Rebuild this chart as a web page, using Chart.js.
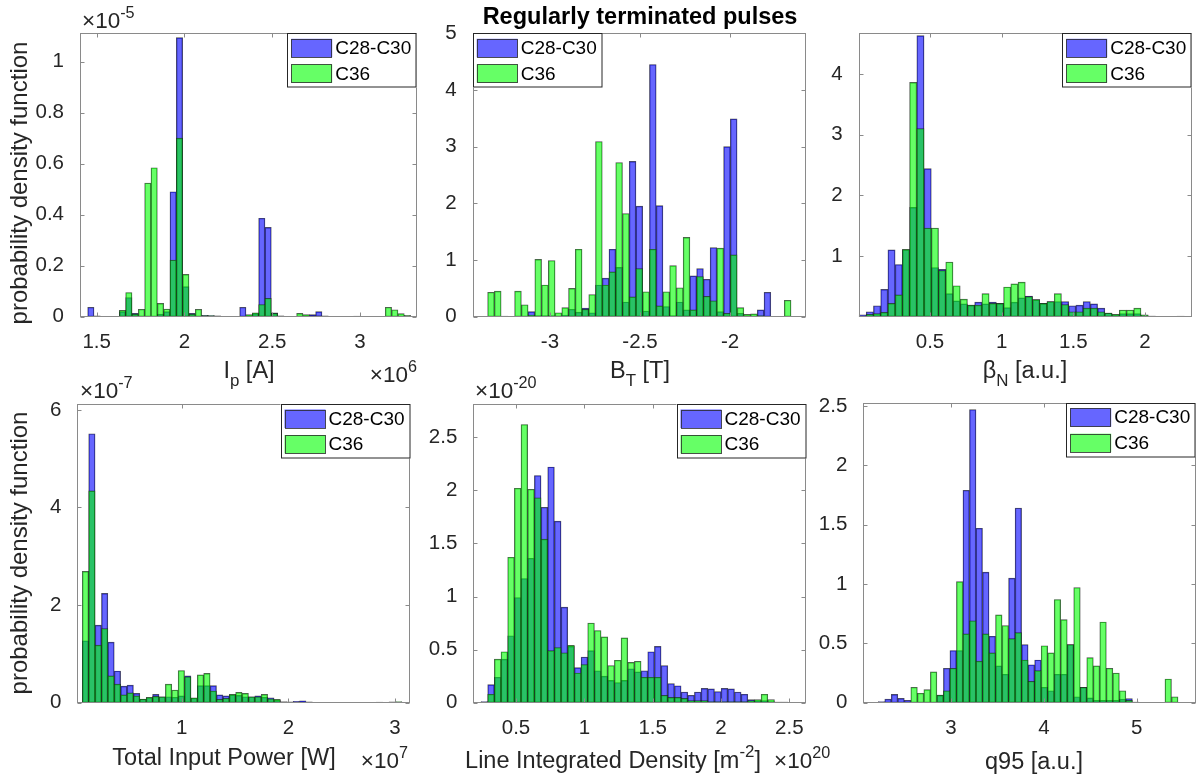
<!DOCTYPE html>
<html><head><meta charset="utf-8">
<script src="https://cdn.jsdelivr.net/npm/chart.js@4.4.0/dist/chart.umd.min.js"></script>
<style>
html,body{margin:0;padding:0;background:#fff;}
#wrap{position:relative;width:1202px;height:780px;overflow:hidden;background:#fff;}
canvas{position:absolute;left:0;top:0;}
</style></head><body><div id="wrap">
<canvas id="c1" width="1202" height="780"></canvas>
<canvas id="c2" width="1202" height="780"></canvas>
<canvas id="c3" width="1202" height="780"></canvas>
<canvas id="c4" width="1202" height="780"></canvas>
<canvas id="c5" width="1202" height="780"></canvas>
<canvas id="c6" width="1202" height="780"></canvas>
</div>
<script>
// ---------------- DATA ----------------
const seriesNames = ['C28-C30', 'C36'];
const chartTitle = 'Regularly terminated pulses';
const yAxisTitle = 'probability density function';

// Panel 1: Ip  (x in 1e6 A, pdf in 1e-5)
const ipBinStart = 1.4487, ipBinWidth = 0.03607;
const ipC28 = [0.037,0.003,0,0,0,0.02,0.075,0.013,0.002,0,0,0.01,0.02,0.49,1.094,0.118,0.013,0.002,0.005,0.004,0.003,0.001,0.001,0,0.037,0.003,0.012,0.386,0.35,0.015,0.003,0,0,0,0,0.008,0.02,0.003,0,0,0,0,0.002,0,0,0,0,0,0,0,0];
const ipC36 = [0,0,0,0,0,0.025,0.095,0.01,0.029,0.524,0.584,0.052,0.03,0.222,0.70,0.166,0.01,0.029,0.004,0.004,0.002,0.001,0,0,0,0.008,0.015,0.048,0.072,0.013,0.002,0,0,0.013,0.008,0.003,0.003,0,0,0,0,0,0,0,0,0,0,0.037,0.027,0.012,0.005];
const ipXTicks = [1.5, 2, 2.5, 3];
const ipYTicks = [0, 0.2, 0.4, 0.6, 0.8, 1];

// Panel 2: BT [T]
const btBinStart = -3.346, btBinWidth = 0.03744;
const btC28 = [0,0,0,0,0,0,0.09,0.02,0.02,0.02,0.01,0.03,0.13,0.08,0.15,0.07,0.56,0.68,1.19,0.87,0.26,2.74,1.95,0.1,4.45,1.96,0.18,0.02,0.26,0.12,0.72,0.85,0.66,1.22,0.09,3.0,3.49,0.06,0.01,0.01,0.12,0.43,0.005,0,0];
const btC36 = [0.43,0.45,0.01,0.005,0.45,0.21,0.03,1.01,0.56,0.99,0.07,0.16,0.5,1.19,0.13,0.39,3.09,0.56,0.79,2.72,1.82,0.35,0.85,0.44,1.19,0.19,0.44,0.9,0.51,1.4,0.12,0.71,0.36,0.28,1.21,0.06,1.09,0.16,0.04,0.05,0.02,0,0,0.005,0.29];
const btXTicks = [-3, -2.5, -2];
const btYTicks = [0, 1, 2, 3, 4, 5];

// Panel 3: beta_N
const bnBinStart = 0.0045, bnBinWidth = 0.05045;
const bnC28 = [0.03,0.08,0.18,0.45,1.1,0.86,1.1,1.8,4.63,2.44,0.81,0.78,0.38,0.26,0.21,0.19,0.24,0.21,0.24,0.22,0.15,0.24,0.31,0.34,0.28,0.22,0.25,0.25,0.25,0.18,0.19,0.25,0.21,0.14,0.06,0.03,0.05,0.05,0.05,0.02,0.01,0.005,0.005,0.005,0.01,0.005];
const bnC36 = [0.005,0.04,0.05,0.07,0.22,0.36,1.11,3.86,3.1,1.46,1.46,0.76,0.9,0.51,0.29,0.19,0.19,0.38,0.22,0.22,0.49,0.54,0.57,0.33,0.28,0.22,0.25,0.38,0.2,0.08,0.08,0.14,0.14,0.08,0.06,0.04,0.11,0.11,0.14,0.03,0.01,0.005,0.002,0.005,0.002,0.002];
const bnXTicks = [0.5, 1, 1.5, 2];
const bnYTicks = [1, 2, 3, 4];

// Panel 4: Total input power (x in 1e7 W, pdf in 1e-7)
const pwBinStart = 0.0684, pwBinWidth = 0.0599;
const pwC28 = [1.27,5.51,1.59,2.24,1.24,0.65,0.34,0.36,0.19,0.07,0.1,0.17,0.12,0.12,0.11,0.14,0.55,0.09,0.35,0.35,0.35,0.16,0.14,0.16,0.15,0.12,0.12,0.14,0.11,0.1,0.05,0.02,0.02,0.03,0.04,0.02,0.005,0.005,0.005,0.005,0.005,0.005,0.005,0.005,0.005,0.005,0.005,0.005,0.005,0.005];
const pwC36 = [2.69,4.34,1.18,1.52,0.55,0.38,0.16,0.2,0.14,0.075,0.11,0.13,0.12,0.38,0.26,0.66,0.53,0.1,0.57,0.6,0.24,0.07,0.09,0.17,0.21,0.19,0.12,0.12,0.17,0.08,0.07,0.02,0.01,0.01,0.01,0.005,0.005,0.005,0.005,0.005,0.01,0.01,0.01,0.01,0.005,0.01,0.015,0.01,0.02,0.025];
const pwXTicks = [1, 2, 3];
const pwYTicks = [0, 2, 4, 6];

// Panel 5: Line integrated density (x in 1e20 m^-2, pdf in 1e-20)
const ldBinStart = 0.244, ldBinWidth = 0.0488;
const ldC28 = [0.01,0.17,0.24,0.41,0.63,0.99,1.17,1.36,2.14,1.84,2.22,1.71,0.9,0.53,0.33,0.43,0.49,0.3,0.25,0.21,0.19,0.21,0.32,0.29,0.3,0.48,0.53,0.35,0.18,0.16,0.1,0.07,0.1,0.135,0.13,0.105,0.135,0.13,0.1,0.08,0.03,0.02,0.02,0.01,0.005,0.005,0.002];
const ldC36 = [0.005,0.08,0.41,0.48,1.37,2.02,2.62,2.01,1.93,1.54,0.49,0.52,0.47,0.54,0.28,0.36,0.75,0.68,0.62,0.35,0.4,0.61,0.38,0.39,0.24,0.24,0.24,0.07,0.05,0.05,0.04,0.02,0.02,0.02,0.01,0.01,0.01,0.01,0.01,0.01,0.02,0.03,0.08,0.03,0.005,0.005,0.002];
const ldXTicks = [0.5, 1, 1.5, 2, 2.5];
const ldYTicks = [0, 0.5, 1, 1.5, 2, 2.5];

// Panel 6: q95
const qBinStart = 2.216, qBinWidth = 0.0702;
const qC28 = [0.01,0.03,0.07,0.036,0.02,0,0,0,0,0.064,0.29,0.44,0.44,1.79,2.47,1.47,1.1,0.56,0.31,0.24,1.05,1.64,0.49,0.32,0.36,0.13,0.1,0.24,0.24,0.49,0.05,0.13,0.04,0.02,0.02,0.02,0.02,0.03,0.035,0.005,0.002,0.002,0.002,0.002,0.005,0];
const qC36 = [0,0,0,0,0,0.13,0.08,0.11,0.26,0.064,0.1,0.29,1.02,0.58,0.69,0.35,0.58,0.42,0.74,0.65,0.54,0.59,0.36,0.18,0.27,0.48,0.42,0.87,0.7,0.49,0.97,0.13,0.38,0.31,0.68,0.29,0.25,0.1,0.02,0.005,0.002,0.002,0.002,0.002,0.2,0.05];
const qXTicks = [3, 4, 5];
const qYTicks = [0, 0.5, 1, 1.5, 2, 2.5];

// ---------------- STYLE / LAYOUT ----------------
const FONT = "'Liberation Sans', Arial, Helvetica, sans-serif";
const TXT = '#262626';
const BLUE = 'rgba(0,0,255,0.6)';
const GREEN = 'rgba(0,255,0,0.6)';
const EDGE = 'rgba(25,25,25,0.75)';
const YW = 62, XH = 40;
const LW = 129.5, LH = 54.5;
const EXP = 22.5;

const panels = [
  {id:'c1', start:ipBinStart, width:ipBinWidth, a:ipC28, b:ipC36, xt:ipXTicks, yt:ipYTicks,
   xmin:1.405, xmax:3.323, ymax:1.111, area:[80,33.3,416.7,316.7], legend:'right',
   labels:[
     {segs:[['I'],['p','sub'],[' [A]']], x:249, y:378, size:23.5, align:'center'},
     {segs:[['\u00d710'],['-5','sup']], x:82, y:28, size:EXP, align:'left'},
     {segs:[['\u00d710'],['6','sup']], x:417, y:382, size:EXP, align:'right'},
     {segs:[[yAxisTitle]], x:27, y:183, size:24, align:'center', rot:true}
   ]},
  {id:'c2', start:btBinStart, width:btBinWidth, a:btC28, b:btC36, xt:btXTicks, yt:btYTicks,
   xmin:-3.429, xmax:-1.578, ymax:5, area:[472.7,33.3,806,316.7], legend:'left',
   labels:[
     {segs:[['B'],['T','sub'],[' [T]']], x:640, y:378, size:23.5, align:'center'},
     {segs:[[chartTitle]], x:640, y:24, size:23.5, align:'center', bold:true}
   ]},
  {id:'c3', start:bnBinStart, width:bnBinWidth, a:bnC28, b:bnC36, xt:bnXTicks, yt:bnYTicks,
   xmin:0.0025, xmax:2.326, ymax:4.669, area:[858.7,33.3,1191.7,316.7], legend:'right',
   labels:[
     {segs:[['\u03b2'],['N','sub'],[' [a.u.]']], x:1025, y:378, size:23.5, align:'center'}
   ]},
  {id:'c4', start:pwBinStart, width:pwBinWidth, a:pwC28, b:pwC36, xt:pwXTicks, yt:pwYTicks,
   xmin:0.0216, xmax:3.14, ymax:6.12, area:[77.3,404,410,702.7], legend:'right',
   labels:[
     {segs:[['Total Input Power [W]']], x:224, y:765, size:23.5, align:'center'},
     {segs:[['\u00d710'],['-7','sup']], x:80, y:398, size:EXP, align:'left'},
     {segs:[['\u00d710'],['7','sup']], x:408, y:768, size:EXP, align:'right'},
     {segs:[[yAxisTitle]], x:27, y:553, size:24, align:'center', rot:true}
   ]},
  {id:'c5', start:ldBinStart, width:ldBinWidth, a:ldC28, b:ldC36, xt:ldXTicks, yt:ldYTicks,
   xmin:0.1875, xmax:2.622, ymax:2.813, area:[473.3,404,806,702.7], legend:'right',
   labels:[
     {segs:[['Line Integrated Density [m'],['-2','sup'],[']']], x:613, y:768, size:23.5, align:'center'},
     {segs:[['\u00d710'],['-20','sup']], x:475, y:398, size:EXP, align:'left'},
     {segs:[['\u00d710'],['20','sup']], x:774, y:768, size:EXP, align:'left'}
   ]},
  {id:'c6', start:qBinStart, width:qBinWidth, a:qC28, b:qC36, xt:qXTicks, yt:qYTicks,
   xmin:2.055, xmax:5.636, ymax:2.528, area:[863.3,402.7,1195.7,702.7], legend:'right',
   labels:[
     {segs:[['q95 [a.u.]']], x:1034, y:769, size:23.5, align:'center'}
   ]}
];

function drawRich(ctx, segs, x, y, size, align, bold) {
  const b = bold ? 'bold ' : '';
  const base = b + size + 'px ' + FONT;
  const small = b + (size * 0.72).toFixed(1) + 'px ' + FONT;
  let total = 0;
  const parts = segs.map(([t, m]) => {
    ctx.font = m ? small : base;
    const w = ctx.measureText(t).width;
    total += w;
    return {t, m, w};
  });
  let cx = align === 'center' ? x - total / 2 : (align === 'right' ? x - total : x);
  ctx.textAlign = 'left';
  ctx.textBaseline = 'alphabetic';
  for (const p of parts) {
    ctx.font = p.m ? small : base;
    const dy = p.m === 'sub' ? size * 0.33 : (p.m === 'sup' ? -size * 0.45 : 0);
    ctx.fillText(p.t, cx, y + dy);
    cx += p.w;
  }
}

const matlabPlugin = {
  id: 'matlab',
  afterDatasetsDraw(chart, args, o) {
    const ctx = chart.ctx, a = chart.chartArea;
    const xs = chart.scales.x, ys = chart.scales.y;
    ctx.save();
    ctx.strokeStyle = '#8a8a8a';
    ctx.lineWidth = 1;
    const l = Math.round(a.left) + 0.5, r = Math.round(a.right) - 0.5;
    const t = Math.round(a.top) + 0.5, btm = Math.round(a.bottom) - 0.5;
    ctx.strokeRect(l, t, r - l, btm - t);
    ctx.beginPath();
    const TL = 4;
    o.xt.forEach(v => {
      const px = Math.round(xs.getPixelForValue(v)) + 0.5;
      ctx.moveTo(px, btm); ctx.lineTo(px, btm - TL);
      ctx.moveTo(px, t); ctx.lineTo(px, t + TL);
    });
    o.yt.forEach(v => {
      const py = Math.round(ys.getPixelForValue(v)) + 0.5;
      ctx.moveTo(l, py); ctx.lineTo(l + TL, py);
      ctx.moveTo(r, py); ctx.lineTo(r - TL, py);
    });
    ctx.stroke();

    // legend
    const lx = o.legend === 'left' ? a.left : a.right - LW;
    const ly = a.top;
    ctx.fillStyle = '#fff';
    ctx.fillRect(lx, ly, LW, LH);
    ctx.strokeStyle = '#262626';
    ctx.strokeRect(Math.round(lx) + 0.5, Math.round(ly) + 0.5, LW - 1, LH - 1);
    const sw = [[BLUE, 5.5], [GREEN, 31]];
    sw.forEach(([c, dy], i) => {
      ctx.fillStyle = '#fff';
      ctx.fillRect(lx + 4, ly + dy, 41, 18.5);
      ctx.fillStyle = c;
      ctx.fillRect(lx + 4, ly + dy, 41, 18.5);
      ctx.strokeStyle = 'rgba(40,40,40,0.8)';
      ctx.strokeRect(Math.round(lx + 4) + 0.5, Math.round(ly + dy) + 0.5, 40, 18);
      ctx.fillStyle = '#000';
      ctx.font = '19px ' + FONT;
      ctx.textAlign = 'left';
      ctx.textBaseline = 'middle';
      ctx.fillText(seriesNames[i], lx + 48, ly + dy + 10);
    });

    // labels
    o.labels.forEach(lb => {
      ctx.fillStyle = lb.bold ? '#000' : TXT;
      if (lb.rot) {
        ctx.save();
        ctx.translate(lb.x, lb.y);
        ctx.rotate(-Math.PI / 2);
        drawRich(ctx, lb.segs, 0, 0, lb.size, lb.align, lb.bold);
        ctx.restore();
      } else {
        drawRich(ctx, lb.segs, lb.x, lb.y, lb.size, lb.align, lb.bold);
      }
    });
    ctx.restore();
  }
};

Chart.defaults.font.family = FONT;
Chart.defaults.color = TXT;

panels.forEach(p => {
  const centers = p.a.map((_, i) => p.start + (i + 0.5) * p.width);
  const [L, T, R, B] = p.area;
  const fmt = v => String(v);
  new Chart(document.getElementById(p.id), {
    type: 'bar',
    data: {
      datasets: [
        {label: seriesNames[0], data: p.a.map((v, i) => ({x: centers[i], y: v})),
         backgroundColor: BLUE, borderColor: EDGE, borderWidth: 0.7, borderSkipped: false, order: 1},
        {label: seriesNames[1], data: p.b.map((v, i) => ({x: centers[i], y: v})),
         backgroundColor: GREEN, borderColor: EDGE, borderWidth: 0.7, borderSkipped: false, order: 0}
      ]
    },
    options: {
      responsive: false, animation: false, devicePixelRatio: 1,
      events: [],
      datasets: {bar: {grouped: false, barPercentage: 1, categoryPercentage: 1}},
      layout: {padding: {left: L - YW, top: T, right: 1202 - R, bottom: 780 - B - XH}},
      plugins: {
        legend: {display: false}, tooltip: {enabled: false}, title: {display: false},
        matlab: {xt: p.xt, yt: p.yt, legend: p.legend, labels: p.labels}
      },
      scales: {
        x: {
          type: 'linear', min: p.xmin, max: p.xmax, offset: false,
          grid: {display: false}, border: {display: false},
          ticks: {font: {size: 20.5, family: FONT}, color: TXT, padding: 5, maxRotation: 0, autoSkip: false, callback: fmt},
          afterBuildTicks: s => { s.ticks = p.xt.map(v => ({value: v})); },
          afterFit: s => { s.height = XH; }
        },
        y: {
          type: 'linear', min: 0, max: p.ymax,
          grid: {display: false}, border: {display: false},
          ticks: {font: {size: 20.5, family: FONT}, color: TXT, padding: 8, autoSkip: false, callback: fmt},
          afterBuildTicks: s => { s.ticks = p.yt.map(v => ({value: v})); },
          afterFit: s => { s.width = YW; }
        }
      }
    },
    plugins: [matlabPlugin]
  });
});
</script>
</body></html>
